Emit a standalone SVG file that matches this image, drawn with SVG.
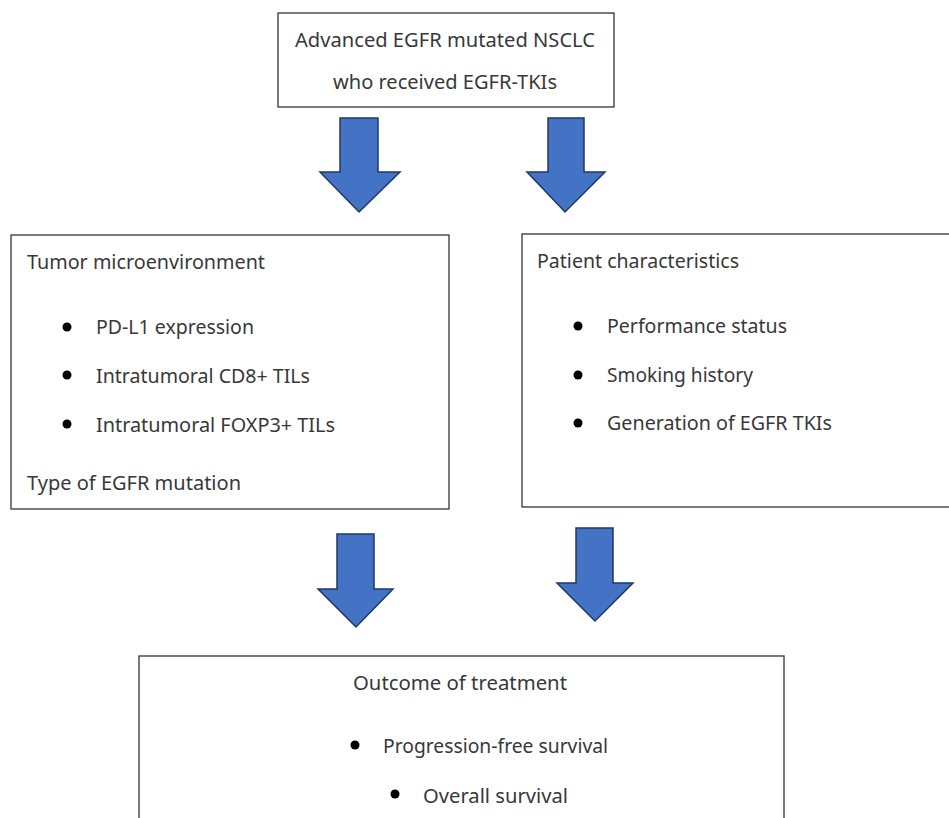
<svg xmlns="http://www.w3.org/2000/svg" width="949" height="818" viewBox="0 0 949 818">
<defs>
<style>
.box{fill:#fff;stroke:#333;stroke-width:1.3}
.t{font-family:"Noto Sans","Open Sans","Liberation Sans",sans-serif;font-size:19.5px;fill:#383838}
.arrow{fill:#4472C4;stroke:#1F3864;stroke-width:1.5;stroke-linejoin:miter}
.dot{fill:#000}
</style>
</defs>
<rect width="949" height="818" fill="#fff"/>
<g id="connectors">
<path class="arrow" d="M340,118 H378 V172 H400 L359,212 L320,172 H340 Z"/>
<path class="arrow" d="M548,118 H584 V172 H605 L565,212 L527,172 H548 Z"/>
<path class="arrow" d="M337,534 H374 V589 H393 L356,627 L318,589 H337 Z"/>
<path class="arrow" d="M576,528 H613 V583 H633 L595,621 L557,583 H576 Z"/>
</g>
<g id="top">
<rect class="box" x="278" y="13" width="336" height="94"/>
<text class="t" x="295" y="47" textLength="300" lengthAdjust="spacingAndGlyphs">Advanced EGFR mutated NSCLC</text>
<text class="t" x="333" y="89" textLength="224" lengthAdjust="spacingAndGlyphs">who received EGFR-TKIs</text>
</g>
<g id="tumor">
<rect class="box" x="11" y="235" width="438" height="274"/>
<text class="t" x="27" y="269" textLength="238" lengthAdjust="spacingAndGlyphs">Tumor microenvironment</text>
<circle class="dot" cx="67" cy="327" r="4.5"/>
<text class="t" x="96" y="334" textLength="158" lengthAdjust="spacingAndGlyphs">PD-L1 expression</text>
<circle class="dot" cx="67" cy="375" r="4.5"/>
<text class="t" x="96" y="383" textLength="214" lengthAdjust="spacingAndGlyphs">Intratumoral CD8+ TILs</text>
<circle class="dot" cx="67" cy="424" r="4.5"/>
<text class="t" x="96" y="432" textLength="239" lengthAdjust="spacingAndGlyphs">Intratumoral FOXP3+ TILs</text>
<text class="t" x="27" y="490" textLength="214" lengthAdjust="spacingAndGlyphs">Type of EGFR mutation</text>
</g>
<g id="patient">
<rect class="box" x="522" y="234" width="440" height="273"/>
<text class="t" x="537" y="268" textLength="202" lengthAdjust="spacingAndGlyphs">Patient characteristics</text>
<circle class="dot" cx="578" cy="326" r="4.5"/>
<text class="t" x="607" y="333" textLength="180" lengthAdjust="spacingAndGlyphs">Performance status</text>
<circle class="dot" cx="578" cy="375" r="4.5"/>
<text class="t" x="607" y="382" textLength="146" lengthAdjust="spacingAndGlyphs">Smoking history</text>
<circle class="dot" cx="578" cy="423" r="4.5"/>
<text class="t" x="607" y="430" textLength="225" lengthAdjust="spacingAndGlyphs">Generation of EGFR TKIs</text>
</g>
<g id="outcome">
<rect class="box" x="139" y="656" width="645" height="180"/>
<text class="t" x="353" y="690" textLength="214" lengthAdjust="spacingAndGlyphs">Outcome of treatment</text>
<circle class="dot" cx="355" cy="745" r="4.5"/>
<text class="t" x="383" y="753" textLength="225" lengthAdjust="spacingAndGlyphs">Progression-free survival</text>
<circle class="dot" cx="395" cy="794" r="4.5"/>
<text class="t" x="423" y="803" textLength="145" lengthAdjust="spacingAndGlyphs">Overall survival</text>
</g>
</svg>
